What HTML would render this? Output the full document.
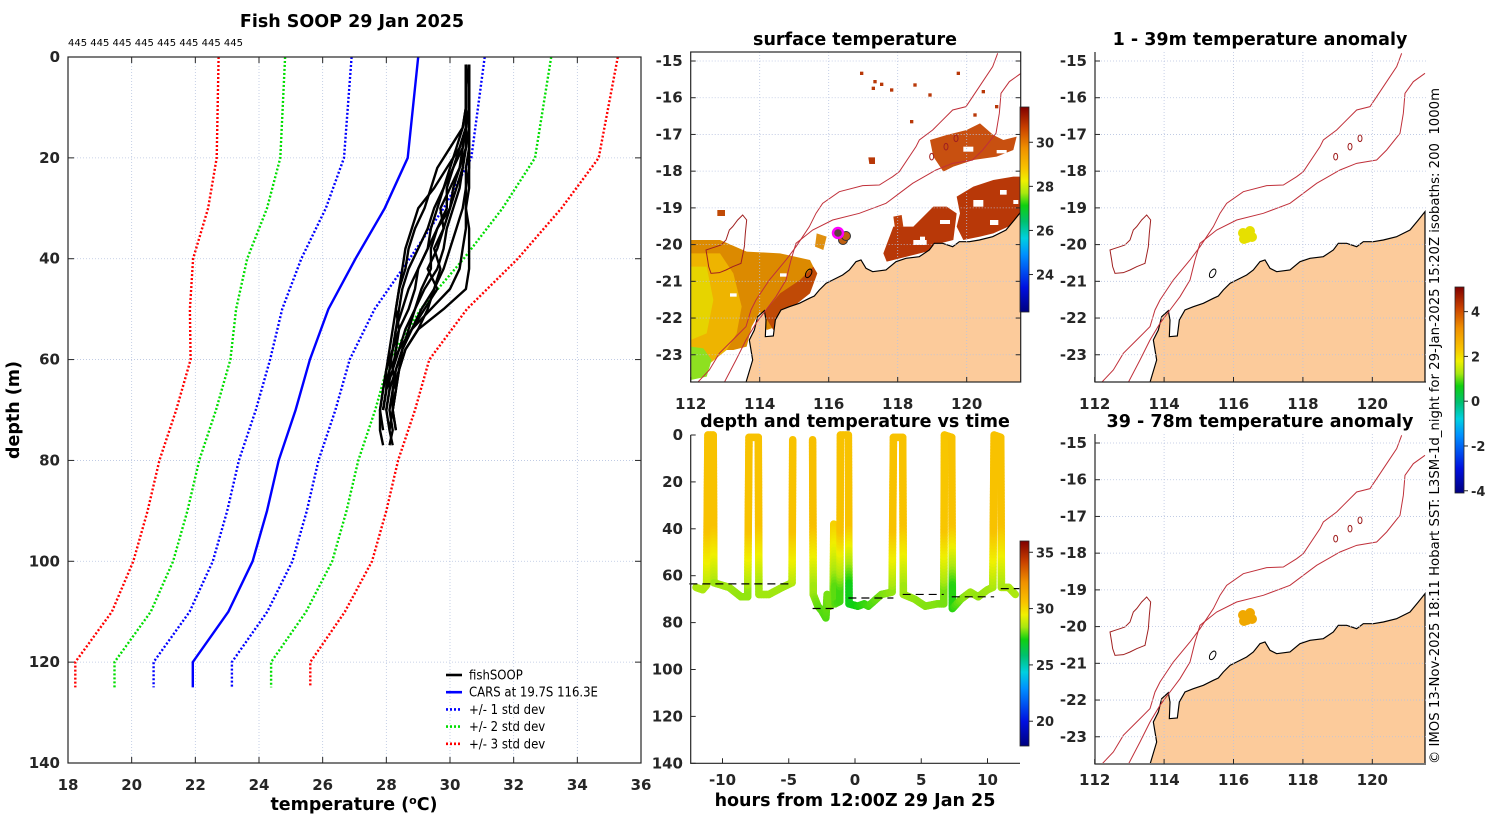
<!DOCTYPE html>
<html><head><meta charset="utf-8"><title>Fish SOOP 29 Jan 2025</title>
<style>
html,body{margin:0;padding:0;background:#fff;}
svg{display:block;font-family:"DejaVu Sans","Liberation Sans",sans-serif;}
.tk{font-size:15px;font-weight:bold;fill:#262626;}
.tt{font-size:17.5px;font-weight:bold;fill:#000;}
.lg{font-family:"DejaVu Sans Condensed","DejaVu Sans",sans-serif;font-size:13px;fill:#000;}
</style></head>
<body>
<svg id="fig" width="1500" height="820" viewBox="0 0 1500 820" xmlns="http://www.w3.org/2000/svg">
<defs>
<linearGradient id="cmap" x1="0" y1="1" x2="0" y2="0"></linearGradient>
<clipPath id="clipMid"><rect x="690.7" y="52" width="330" height="330"/></clipPath>
<clipPath id="clipR1"><rect x="1095" y="52" width="331" height="330"/></clipPath>
<clipPath id="clipR2"><rect x="1095" y="434" width="331" height="329"/></clipPath>
</defs>
<g id="root"></g>
</svg>
<script>
// ===== Profile plot data =====
const cDepths = [0,20,30,40,50,60,70,80,90,100,110,120,125];
const carsMean = [29.0,28.67,27.95,27.03,26.18,25.6,25.15,24.62,24.25,23.8,23.04,21.92,21.92];
const carsStd = [2.09,2.0,1.85,1.7,1.45,1.25,1.25,1.25,1.25,1.25,1.22,1.23,1.23];
const stdMult = [1,2,3];
const stdColors = ['#0000ff','#00dd00','#ff0000'];
const xTicksT = [18,20,22,24,26,28,30,32,34,36];
const yTicksD = [0,20,40,60,80,100,120,140];
const countLabels = ['445','445','445','445','445','445','445','445'];
const fishDepths = [1.5,6,10,14,18,22,26,30,34,38,42,46,50,54,58,62,66,70,74,77];
const fishP1 = [30.6,30.6,30.6,30.5,30.3,29.9,29.5,29.0,28.8,28.6,28.5,28.4,28.3,28.2,28.1,28.0,27.9,27.8,27.8,27.9];
const fishP2 = [30.5,30.5,30.5,30.4,30.2,30.0,29.8,29.5,29.3,29.0,28.7,28.5,28.4,28.3,28.2,28.0,27.9,27.8,27.9];
const fishP3 = [30.6,30.6,30.6,30.6,30.5,30.4,30.2,30.0,29.6,29.3,29.0,28.7,28.5,28.3,28.2,28.1,28.1,28.0];
const fishP4 = [30.5,30.6,30.6,30.6,30.6,30.6,30.6,30.5,30.5,30.4,30.3,30.0,29.4,28.8,28.5,28.3,28.2,28.2,28.1];
const fishP5 = [30.6,30.6,30.6,30.5,30.4,30.1,29.8,29.6,29.4,29.3,29.0,28.9,28.7,28.4,28.3,28.2,28.0,27.9];
const fishP6 = [30.5,30.5,30.5,30.5,30.4,30.3,30.0,29.7,29.8,29.6,29.3,29.6,29.2,28.8,28.4,28.2,28.3,28.2,28.3];
const fishP7 = [30.6,30.6,30.6,30.6,30.5,30.3,30.1,30.0,29.8,29.5,29.7,29.5,29.3,29.0,28.6,28.4,28.2,28.1,28.2,28.1];
const fishP8 = [30.5,30.5,30.5,30.4,30.0,29.6,29.4,29.2,28.9,28.7,28.6,28.4,28.3,28.4,28.2,28.0,28.0,27.9];
const fishP9 = [30.6,30.6,30.6,30.6,30.6,30.5,30.5,30.4,30.2,30.0,29.8,29.5,29.1,28.8,28.5,28.4,28.3,28.2,28.3];
const fishP10 = [30.5,30.6,30.6,30.5,30.5,30.4,30.3,30.1,29.9,29.8,29.6,29.2,28.9,28.6,28.4,28.1,28.0,27.9];
const fishP11 = [30.6,30.6,30.6,30.6,30.6,30.6,30.5,30.5,30.6,30.6,30.6,30.5,29.8,29.0,28.6,28.4,28.3,28.2];
const fishP12 = [30.5,30.5,30.5,30.5,30.3,30.1,29.9,29.9,29.6,29.4,29.4,29.1,28.9,28.7,28.5,28.3,28.1,28.0,28.1,28.2];
const fishProfiles = [fishP1,fishP2,fishP3,fishP4,fishP5,fishP6,fishP7,fishP8,fishP9,fishP10,fishP11,fishP12];
const legendLabels = ['fishSOOP','CARS at 19.7S 116.3E','+/- 1 std dev','+/- 2 std dev','+/- 3 std dev'];

// ===== Time-depth data =====
const trackHours = [-12.0,-11.5,-11.2,-11.1,-10.7,-10.65,-9.5,-8.6,-8.1,-8.0,-7.3,-7.25,-6.5,-5.5,-4.75,-4.7,
 -3.2,-3.15,-2.8,-2.5,-2.2,-2.1,-1.9,-1.65,-1.6,-1.5,-1.15,-1.1,-0.5,-0.45,0.2,0.7,1.0,2.0,2.8,2.9,3.6,3.65,4.5,5.3,6.2,6.7,6.75,7.3,7.35,8.0,8.7,9.3,10.0,10.4,10.5,11.0,11.05,11.6,12.1];
const trackDepths = [65,66,64,0,0,63,65,69,69,1,1,68,68,65,63,2,
 2,68,73,75,78,68,73,72,38,72,71,0,0,72,73,72,73,68,67,1,1,68,70,73,72,72,0,1,74,70,67,69,66,65,0,1,65,65,68];
const trackTemps = [28.4,28.4,28.4,30.6,30.6,28.3,28.3,28.2,28.2,30.6,30.6,28.3,28.3,28.3,28.3,30.6,
 30.7,28.3,27.9,27.8,27.7,28.0,28.0,28.0,30.2,27.8,27.6,30.6,30.6,27.1,27.3,27.5,27.6,28.0,28.2,30.6,30.6,28.3,28.2,28.1,28.1,28.0,30.5,30.6,27.4,28.0,28.3,28.2,28.3,28.3,30.6,30.6,28.4,28.4,28.4];
const bottomStart = [-12.5,-3.2,-0.5,3.6,7.3,11.0];
const bottomEnd = [-4.7,-1.3,2.9,6.7,10.5,12.4];
const bottomDepth = [63.5,74,69.5,68,69,65.5];
const hourTicks = [-10,-5,0,5,10];
const tdDepthTicks = [0,20,40,60,80,100,120,140];
const sstTicks = [24,26,28,30];
const tdCbTicks = [20,25,30,35];
const anomTicks = [-4,-2,0,2,4];
const lonTicks = [112,114,116,118,120];
const latTicks = [-15,-16,-17,-18,-19,-20,-21,-22,-23];

// colormap
const cmStops = [[0,'#00007f'],[0.12,'#0010e0'],[0.28,'#0090ff'],[0.36,'#00d0e0'],[0.44,'#00c070'],[0.52,'#10d010'],[0.58,'#a8e810'],[0.64,'#f0f000'],[0.70,'#f8c400'],[0.8,'#f09000'],[0.9,'#c84000'],[1,'#800000']];
function hex2rgb(h){return [parseInt(h.substr(1,2),16),parseInt(h.substr(3,2),16),parseInt(h.substr(5,2),16)];}
function cmap(f){f=Math.max(0,Math.min(1,f));for(let i=1;i<cmStops.length;i++){if(f<=cmStops[i][0]){const a=cmStops[i-1],b=cmStops[i];const t=(f-a[0])/(b[0]-a[0]);const A=hex2rgb(a[1]),B=hex2rgb(b[1]);return 'rgb('+A.map((v,k)=>Math.round(v+(B[k]-v)*t)).join(',')+')';}}return cmStops[cmStops.length-1][1];}

const NS='http://www.w3.org/2000/svg';
const root=document.getElementById('root');
function mk(tag,attrs,parent){const e=document.createElementNS(NS,tag);for(const k in attrs)e.setAttribute(k,attrs[k]);(parent||root).appendChild(e);return e;}
function txt(s,attrs,parent){const e=mk('text',attrs,parent);e.textContent=s;return e;}

const grad=document.getElementById('cmap');
cmStops.forEach(s=>{const st=document.createElementNS(NS,'stop');st.setAttribute('offset',s[0]);st.setAttribute('stop-color',s[1]);grad.appendChild(st);});

// ================= LEFT PROFILE PLOT =================
const PL=68,PR=641,PT=57,PB=763;
const xT=t=>PL+(t-18)*(PR-PL)/18;
const yD=d=>PT+d*(PB-PT)/140;
const gP=mk('g',{});


const gGrid=mk('g',{stroke:'#b8c4e0','stroke-width':0.8,'stroke-dasharray':'1,2'},gP);


xTicksT.forEach(t=>{if(t>18&&t<36)mk('line',{x1:xT(t),x2:xT(t),y1:PT,y2:PB},gGrid);});
yTicksD.forEach(d=>{if(d>0&&d<140)mk('line',{x1:PL,x2:PR,y1:yD(d),y2:yD(d)},gGrid);});

function pathFrom(xs,ys){return xs.map((x,i)=>(i?'L':'M')+x.toFixed(1)+','+ys[i].toFixed(1)).join(' ');}
stdMult.forEach((m,k)=>{
  [-1,1].forEach(sg=>{
    const xs=cDepths.map((d,i)=>xT(carsMean[i]+sg*m*carsStd[i]));
    const ys=cDepths.map(d=>yD(d));
    const p=mk('path',{d:pathFrom(xs,ys),fill:'none',stroke:stdColors[k],'stroke-width':2.4,'stroke-dasharray':'2,2'},gP);
    
    
  });
});
const carsLine=mk('path',{d:pathFrom(carsMean.map(xT),cDepths.map(yD)),fill:'none',stroke:'#0000ff','stroke-width':2.4},gP);


fishProfiles.forEach((pr,j)=>{
  const p=mk('path',{d:pathFrom(pr.map(xT),pr.map((v,i)=>yD(fishDepths[i]))),fill:'none',stroke:'#000','stroke-width':2.4,'stroke-linejoin':'round'},gP);
  
  
});
const fr=mk('rect',{x:PL,y:PT,width:PR-PL,height:PB-PT,fill:'none',stroke:'#262626','stroke-width':1.2},gP);


xTicksT.forEach(t=>{
  mk('line',{x1:xT(t),x2:xT(t),y1:PB,y2:PB-6,stroke:'#262626'},gP);
  mk('line',{x1:xT(t),x2:xT(t),y1:PT,y2:PT+6,stroke:'#262626'},gP);
  const l=txt(String(t),{x:xT(t),y:790,'text-anchor':'middle',class:'tk'},gP);
  
  
});
yTicksD.forEach(d=>{
  mk('line',{x1:PL,x2:PL+6,y1:yD(d),y2:yD(d),stroke:'#262626'},gP);
  mk('line',{x1:PR,x2:PR-6,y1:yD(d),y2:yD(d),stroke:'#262626'},gP);
  const l=txt(String(d),{x:60,y:yD(d)+5,'text-anchor':'end',class:'tk'},gP);
  
  
});
const cnt=txt(countLabels.join(' '),{x:68,y:46,'font-size':'10px',fill:'#000'},gP);


const t1=txt('Fish SOOP 29 Jan 2025',{x:352,y:27,'text-anchor':'middle',class:'tt'},gP);


const xl=mk('text',{x:354,y:810,'text-anchor':'middle',class:'tt',fill:'#262626'},gP);
xl.innerHTML='temperature (<tspan font-size="11" dy="-6">o</tspan><tspan dy="6">C)</tspan>';


const yl=txt('depth (m)',{x:0,y:0,'text-anchor':'middle',class:'tt',fill:'#262626',transform:'translate(19,410) rotate(-90)'},gP);


const gL=mk('g',{},gP);


const lgColors=['#000','#0000ff','#0000ff','#00dd00','#ff0000'];
const lgDash=['none','none','2,2','2,2','2,2'];
legendLabels.forEach((s,i)=>{
  const y=675+i*17.2;
  const ln=mk('line',{x1:446,x2:462,y1:y,y2:y,stroke:lgColors[i],'stroke-width':2.6,'stroke-dasharray':lgDash[i]},gL);
  
  
  const t=txt(s,{x:469,y:y+4.5,class:'lg'},gL);
  
  
});

// ================= MAPS =================
const coastPts=[[180,1027],[200,960],[190,900],[205,870],[215,830],[235,812],[240,840],[238,890],[262,888],[268,840],[285,810],[310,800],[340,790],[370,775],[385,768],[400,750],[420,730],[440,720],[470,705],[490,690],[510,665],[525,660],[540,685],[560,695],[600,690],[630,665],[660,655],[700,650],[730,630],[745,610],[770,610],[800,620],[820,605],[850,605],[880,600],[920,590],[960,570],[985,540],[1005,515],[1005,1027]];
const iso1000=[[35,1027],[70,990],[100,940],[140,900],[180,860],[195,810],[210,780],[250,720],[300,660],[330,620],[350,590],[370,560],[390,520],[410,490],[460,455],[530,437],[580,435],[620,410],[640,395],[690,320],[700,300],[740,270],[760,250],[800,210],[840,200],[860,170],[880,140],[920,80],[935,40]];
const iso200=[[115,1027],[150,960],[180,900],[210,850],[240,810],[270,770],[300,720],[315,660],[330,610],[380,570],[440,540],[520,520],[600,490],[640,460],[680,430],[750,390],[800,370],[860,360],[890,330],[930,280],[940,220],[945,160],[970,125],[1005,100]];
const islandPts=[[60,630],[75,625],[90,620],[105,615],[120,600],[130,570],[140,560],[155,540],[170,525],[182,540],[178,580],[175,620],[165,670],[140,680],[120,690],[100,698],[75,700],[68,680],[65,660]];
function ptsStr(a){return a.map(p=>p.join(',')).join(' ');}
function drawGeo(parent,tx,ty,clip,name){
  const g=mk('g',{'clip-path':'url(#'+clip+')'},parent);
  const gi=mk('g',{transform:'translate('+tx+','+ty+') scale(0.33333)'},g);
  const land=mk('polygon',{points:ptsStr(coastPts),fill:'#fccb9b',stroke:'#000','stroke-width':3.5},gi);
  
  
  const a=mk('polyline',{points:ptsStr(iso1000),fill:'none',stroke:'#c0303a','stroke-width':3},gi);
  
  
  const b=mk('polyline',{points:ptsStr(iso200),fill:'none',stroke:'#c0303a','stroke-width':3},gi);
  
  
  const isl=mk('polygon',{points:ptsStr(islandPts),fill:'none',stroke:'#a02020','stroke-width':3},gi);
  
  
  [[737,350],[780,320],[810,295]].forEach(c=>mk('ellipse',{cx:c[0],cy:c[1],rx:6,ry:10,fill:'none',stroke:'#a02020','stroke-width':3},gi));
  mk('ellipse',{cx:368,cy:700,rx:8,ry:14,fill:'none',stroke:'#000','stroke-width':3,transform:'rotate(30 368 700)'},gi);
  return g;
}
function mapAxes(parent,x0,x1,y0,y1,lon0x,pxLon,lat15y,pxLat,box,labelY,name){
  const gg=mk('g',{stroke:'#b8c4e0','stroke-width':0.8,'stroke-dasharray':'1,2'},parent);
  lonTicks.forEach(l=>{const x=lon0x+(l-112)*pxLon;if(x>x0+1)mk('line',{x1:x,x2:x,y1:y0,y2:y1},gg);});
  latTicks.forEach(l=>{const y=lat15y+(-15-l)*pxLat;mk('line',{x1:x0,x2:x1,y1:y,y2:y},gg);});
  if(box){mk('rect',{x:x0,y:y0,width:x1-x0,height:y1-y0,fill:'none',stroke:'#262626','stroke-width':1.2},parent);}
  else{mk('path',{d:'M'+x0+','+y0+' L'+x0+','+y1+' L'+x1+','+y1,fill:'none',stroke:'#262626','stroke-width':1.2},parent);}
  lonTicks.forEach(l=>{const x=lon0x+(l-112)*pxLon;mk('line',{x1:x,x2:x,y1:y1,y2:y1-5,stroke:'#262626'},parent);
    const t=txt(String(l),{x:x,y:labelY,'text-anchor':'middle',class:'tk'},parent);
    
    });
  latTicks.forEach(l=>{const y=lat15y+(-15-l)*pxLat;mk('line',{x1:x0,x2:x0+5,y1:y,y2:y,stroke:'#262626'},parent);
    if(box)mk('line',{x1:x1,x2:x1-5,y1:y,y2:y,stroke:'#262626'},parent);
    const t=txt(String(l),{x:x0-8,y:y+5,'text-anchor':'end',class:'tk'},parent);
    
    });
}
function colorbar(parent,x,y0,y1,vmin,vmax,ticks,name){
  const g=mk('g',{},parent);
  
  
  mk('rect',{x:x,y:y0,width:9,height:y1-y0,fill:'url(#cmap)',stroke:'#262626','stroke-width':0.8},g);
  ticks.forEach(v=>{const y=y1-(v-vmin)/(vmax-vmin)*(y1-y0);
    mk('line',{x1:x+9,x2:x+13,y1:y,y2:y,stroke:'#262626'},g);
    txt(String(v),{x:x+16,y:y+5,class:'tk',style:'font-size:13px'},g);});
}

// --- middle: surface temperature ---
const gM=mk('g',{});


mk('rect',{x:690.7,y:52,width:330,height:330,fill:'#fff'},gM);
const gS=mk('g',{'clip-path':'url(#clipMid)'},gM);
const gSi=mk('g',{transform:'translate(680,40) scale(0.33333)'},gS);


const sstPatches=[
 ['#dc8a00','32,600 120,600 200,635 300,640 390,660 410,700 370,760 320,800 290,860 260,870 240,815 215,860 200,920 160,930 32,930'],
 ['#c04a06','250,820 300,760 360,720 400,680 412,700 390,760 340,800 300,840 280,870'],
 ['#eeb400','32,640 120,640 160,700 185,800 170,880 140,930 90,970 32,990'],
 ['#e6d400','32,680 80,680 100,780 80,880 32,900'],
 ['#8ee020','32,920 70,925 95,960 80,1010 32,1020'],
 ['#b83808','830,470 880,440 940,420 1000,410 1022,410 1022,520 985,560 940,580 900,590 850,600 830,560 840,520'],
 ['#b83808','640,560 700,560 760,500 800,500 830,520 820,600 780,610 740,635 680,650 620,665 610,640'],
 ['#c85010','750,300 800,285 860,270 900,250 940,285 970,300 1010,290 1000,330 950,350 880,360 820,380 790,395 760,350'],
 ['#c0400a','640,530 665,525 670,560 645,565'],
 ['#e09010','410,580 440,590 430,630 405,620'],
 ['#b83808','565,352 585,352 585,372 568,372'],
 ['#c04a06','112,510 135,510 135,528 112,528']
];
sstPatches.forEach(p=>{const e=mk('polygon',{points:p[1],fill:p[0]},gSi);
  
  });
[[540,95],[580,120],[600,128],[575,140],[630,145],[700,130],[745,160],[830,95],[690,240],[880,220],[905,150],[945,195]].forEach(c=>mk('rect',{x:c[0],y:c[1],width:10,height:10,fill:'#b83808'},gSi));
[[880,480,30,20],[700,600,40,15],[930,540,25,15],[780,540,30,12],[850,320,30,15],[950,330,30,10],[150,760,20,10],[300,700,20,10],[960,450,20,14],[720,590,15,10],[1000,480,15,12]].forEach(r=>mk('rect',{x:r[0],y:r[1],width:r[2],height:r[3],fill:'#fff'},gSi));
drawGeo(gM,686,40,'clipMid','sst-map');
mapAxes(gM,690.7,1020.7,52,382,690.7,34.5,61,36.72,true,409,'sst-map');
const mk1=mk('circle',{cx:843,cy:240,r:4.5,fill:'#c06010',stroke:'#333','stroke-width':1},gM);


mk('circle',{cx:846,cy:236,r:4.5,fill:'#c06010',stroke:'#333','stroke-width':1},gM);
const mk2=mk('circle',{cx:838,cy:233,r:5,fill:'#604040',stroke:'#ff00ff','stroke-width':2.5},gM);


colorbar(gM,1020,107,312,22.3,31.6,sstTicks,'sst-colorbar');
const tM=txt('surface temperature',{x:855,y:45,'text-anchor':'middle',class:'tt'},gM);



function anomalyMap(dy,blobColor,title,name,clip,labelY){
  const g=mk('g',{});
  
  
  drawGeo(g,1090,40+dy,clip,name);
  mapAxes(g,1095,1426,52+dy,382+dy,1094.7,34.7,61+dy,36.72,false,labelY,name);
  [[1243,233],[1250,231],[1247,238],[1252,237],[1244,239]].forEach(c=>{
    const b=mk('circle',{cx:c[0],cy:c[1]+dy,r:5,fill:blobColor},g);
    
    });
  const t=txt(title,{x:1260,y:45+dy,'text-anchor':'middle',class:'tt'},g);
  
  
}
anomalyMap(0,'#e6e000','1 - 39m temperature anomaly','anomaly-map-1-39m','clipR1',409);
anomalyMap(382,'#f0a800','39 - 78m temperature anomaly','anomaly-map-39-78m','clipR2',785);
colorbar(root,1455,287,493,-4.1,5.1,anomTicks,'anomaly-colorbar');
const cr=txt('© IMOS 13-Nov-2025 18:11 Hobart SST: L3SM-1d_night for 29-Jan-2025 15:20Z isobaths: 200  1000m',{x:0,y:0,class:'lg',transform:'translate(1439,764) rotate(-90)',textLength:676,lengthAdjust:'spacingAndGlyphs',style:'white-space:pre'});



// ================= TIME-DEPTH PLOT =================
const TL=690.7,TR=1020,TT=435,TB=763.3;
const xH=h=>855+h*13.25;
const yTD=d=>TT+d*(TB-TT)/140;
const TDmin=17.8,TDmax=36;
const gT=mk('g',{});


const gTr=mk('g',{'stroke-linecap':'round','stroke-width':7.5},gT);


for(let i=1;i<trackHours.length;i++){
  if(trackHours[i]-trackHours[i-1]>1.2)continue;
  const d0=trackDepths[i-1],d1=trackDepths[i],T0=trackTemps[i-1],T1=trackTemps[i];
  const x0=xH(trackHours[i-1]),y0=yTD(d0),x1=xH(trackHours[i]),y1=yTD(d1);
  const n=Math.max(1,Math.ceil(Math.hypot(x1-x0,y1-y0)/3));
  const vertical=Math.abs(d1-d0)>25;
  const sT=d0<d1?T0:T1, dT=d0<d1?T1:T0;
  for(let k=0;k<n;k++){
    const a=k/n,b=(k+1)/n,m=(a+b)/2;
    let tm;
    if(vertical){const d=d0+(d1-d0)*m;const w=Math.max(0,Math.min(1,(d-40)/25));tm=sT+(dT-sT)*w;}
    else tm=T0+(T1-T0)*m;
    mk('line',{x1:x0+(x1-x0)*a,y1:y0+(y1-y0)*a,x2:x0+(x1-x0)*b,y2:y0+(y1-y0)*b,stroke:cmap((tm-TDmin)/(TDmax-TDmin))},gTr);
  }
}
bottomStart.forEach((s,i)=>{
  const l=mk('line',{x1:xH(s),x2:xH(bottomEnd[i]),y1:yTD(bottomDepth[i]),y2:yTD(bottomDepth[i]),stroke:'#000','stroke-width':1.2,'stroke-dasharray':'8,5'},gT);
  
  
});
mk('path',{d:'M'+TL+','+TT+' L'+TL+','+TB+' L'+TR+','+TB,fill:'none',stroke:'#262626','stroke-width':1.2},gT);
hourTicks.forEach(h=>{mk('line',{x1:xH(h),x2:xH(h),y1:TB,y2:TB-5,stroke:'#262626'},gT);
  const t=txt(String(h),{x:xH(h),y:785,'text-anchor':'middle',class:'tk'},gT);
  
  });
tdDepthTicks.forEach(d=>{mk('line',{x1:TL,x2:TL+5,y1:yTD(d),y2:yTD(d),stroke:'#262626'},gT);
  const t=txt(String(d),{x:683,y:yTD(d)+5,'text-anchor':'end',class:'tk'},gT);
  
  });
colorbar(gT,1020,541,746,TDmin,TDmax,tdCbTicks,'depth-time-colorbar');
const tT=txt('depth and temperature vs time',{x:855,y:427,'text-anchor':'middle',class:'tt'},gT);


const xT2=txt('hours from 12:00Z 29 Jan 25',{x:855,y:806,'text-anchor':'middle',class:'tt',fill:'#262626'},gT);


</script>
</body></html>
